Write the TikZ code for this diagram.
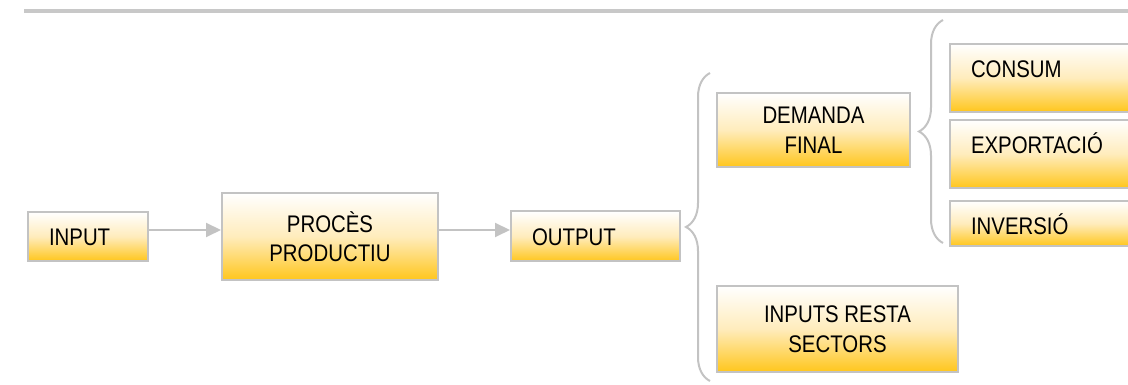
\documentclass[tikz,border=0pt]{standalone}
\usepackage{fontspec}
\newfontfamily\diagfont[FakeStretch=0.85]{Liberation Sans}
\usetikzlibrary{positioning,arrows.meta,decorations.pathreplacing}
\usepackage{xcolor}
\definecolor{edgegray}{RGB}{195,195,195}
\definecolor{rulegray}{RGB}{200,200,200}
\definecolor{boxgold}{RGB}{255,198,28}
\definecolor{boxpeach}{RGB}{255,236,188}

\begin{document}
\begin{tikzpicture}[
    x=1pt, y=1pt,
    font=\diagfont\fontsize{24}{29.5}\selectfont,
    box/.style={rectangle, draw=edgegray, line width=2pt, top color=white,
      bottom color=boxgold, middle color=boxpeach, inner sep=0pt},
    block/.style={box, align=center},
    tag/.style={box, align=left, inner xsep=21pt, inner ysep=0pt, text height=34pt},
    arrow/.style={-{Triangle[length=15pt, width=14pt]}, line width=2pt, draw=edgegray},
    curly/.style={draw=edgegray, line width=2pt, decorate,
      decoration={brace, amplitude=24pt}}
  ]
    \useasboundingbox (0,0) rectangle (1128,385);
    \clip (0,0) rectangle (1128,385);

    % rule under the caption
    \draw[rulegray, line width=4pt] (24,374) -- (1128,374);

    \node[tag, text width=78pt, text depth=15pt] (input) at (88,148.5) {INPUT};
    \node[block, minimum width=216pt, minimum height=87pt, right=72pt of input] (process) {PROCÈS\\PRODUCTIU};
    \node[tag, text width=127pt, text depth=16pt, right=71pt of process] (output) {OUTPUT};

    \node[block, minimum width=193pt, minimum height=74pt] (demand) at (813.5,255) {DEMANDA\\FINAL};
    \node[block, minimum width=241pt, minimum height=86pt] (rest) at (837.5,56) {INPUTS RESTA\\SECTORS};

    \node[tag, text width=158pt, text depth=34pt, anchor=north west] (consum) at (949,342) {CONSUM};
    \node[tag, text width=158pt, text depth=34pt, below=6pt of consum] (export) {EXPORTACIÓ};
    \node[tag, text width=158pt, text depth=11pt, below=11pt of export] (invest) {INVERSIÓ};

    \coordinate (flow) at (0,155);
    \draw[arrow] (input.east |- flow)   -- (process.west |- flow);
    \draw[arrow] (process.east |- flow) -- (output.west |- flow);

    % output splits into final demand and inputs to other sectors
    \draw[curly] (710,4) -- (710,312);
    % final demand splits into its three uses
    \draw[curly] (943,142) -- (943,365);
  \end{tikzpicture}
\end{document}
